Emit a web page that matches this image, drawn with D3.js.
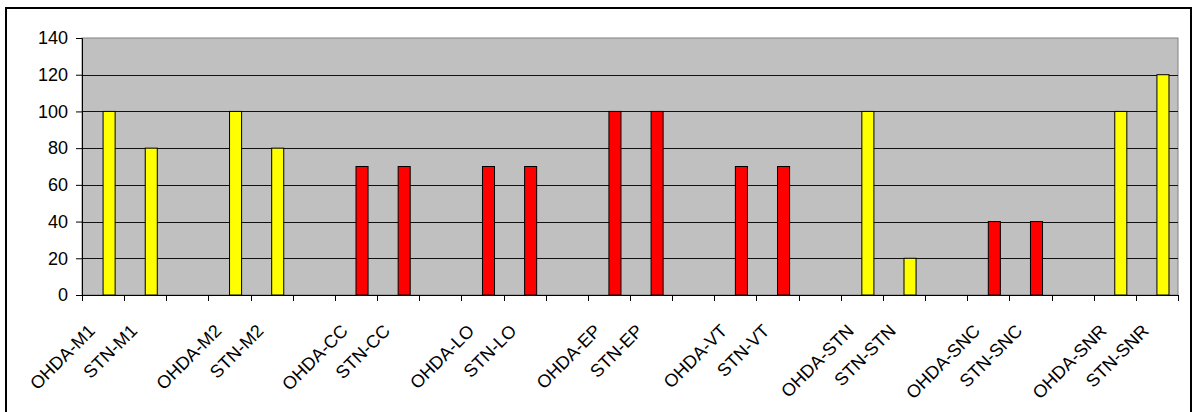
<!DOCTYPE html>
<html><head><meta charset="utf-8">
<script src="https://cdn.jsdelivr.net/npm/d3@7"></script>
<style>html,body{margin:0;padding:0;background:#fff}svg{display:block}</style>
</head><body>
<svg id="c" width="1200" height="412"></svg>
<script>
const categories = ["OHDA-M1","STN-M1","","OHDA-M2","STN-M2","","OHDA-CC","STN-CC","","OHDA-LO","STN-LO","","OHDA-EP","STN-EP","","OHDA-VT","STN-VT","","OHDA-STN","STN-STN","","OHDA-SNC","STN-SNC","","OHDA-SNR","STN-SNR"];
const values = [100,80,null,100,80,null,70,70,null,70,70,null,100,100,null,70,70,null,100,20,null,40,40,null,100,120];
const barColors = ["#FFFF00","#FFFF00",null,"#FFFF00","#FFFF00",null,"#FF0000","#FF0000",null,"#FF0000","#FF0000",null,"#FF0000","#FF0000",null,"#FF0000","#FF0000",null,"#FFFF00","#FFFF00",null,"#FF0000","#FF0000",null,"#FFFF00","#FFFF00"];
const seriesSlots = ["empty","value"];
const yTicks = [0,20,40,60,80,100,120,140];

const svg = d3.select("#c");
const L = 82, T = 38, R = 1178, B = 295;
const font = "'Liberation Sans', Arial, sans-serif";

svg.append("rect").attr("x",6).attr("y",8).attr("width",1185).attr("height",430)
  .attr("fill","#fff").attr("stroke","#000").attr("stroke-width",2);

const x0 = d3.scaleBand().domain(d3.range(categories.length)).range([L,R]).padding(0);
const x1 = d3.scaleBand().domain(seriesSlots).range([0,x0.bandwidth()]).paddingInner(0).paddingOuter(0.75);
const y = d3.scaleLinear().domain([0,140]).range([B,T]);

svg.append("rect").attr("x",L).attr("y",T).attr("width",R-L).attr("height",B-T)
  .attr("fill","#C0C0C0").attr("stroke","#808080").attr("stroke-width",1);

svg.append("g").selectAll("line").data(yTicks.filter(t=>t>0 && t<140)).join("line")
  .attr("x1",L).attr("x2",R).attr("y1",d=>Math.round(y(d))+0.5).attr("y2",d=>Math.round(y(d))+0.5)
  .attr("stroke","#111").attr("stroke-width",1.2);

const idx = d3.range(categories.length).filter(i=>values[i]!=null);
svg.append("g").selectAll("rect").data(idx).join("rect")
  .attr("x",i=>x0(i)+x1("value"))
  .attr("y",i=>y(values[i]))
  .attr("width",x1.bandwidth())
  .attr("height",i=>y(0)-y(values[i]))
  .attr("fill",i=>barColors[i]).attr("stroke","#000").attr("stroke-width",1);

// y axis
const yAxis = d3.axisLeft(y).tickValues(yTicks).tickSize(6).tickPadding(8);
const gy = svg.append("g").attr("transform",`translate(${L},0)`).call(yAxis);
gy.select(".domain").attr("stroke","#000");
gy.selectAll("line").attr("stroke","#000");
gy.selectAll("text").attr("font-family",font).attr("font-size",18).attr("fill","#000");

// x axis ticks at category boundaries
const bounds = d3.range(categories.length+1).map(i=> i<categories.length ? x0(i) : R);
const gx = svg.append("g");
gx.append("line").attr("x1",L).attr("x2",R).attr("y1",B+0.5).attr("y2",B+0.5).attr("stroke","#000");
gx.selectAll("line.t").data(bounds).join("line").attr("class","t")
  .attr("x1",d=>Math.round(d)+0.5).attr("x2",d=>Math.round(d)+0.5).attr("y1",B).attr("y2",B+6).attr("stroke","#000");
gx.selectAll("text").data(d3.range(categories.length)).join("text")
  .attr("transform",i=>`translate(${x0(i)+x0.bandwidth()/2-7},${B+37}) rotate(-45)`)
  .attr("text-anchor","end")
  .attr("font-family",font).attr("font-size",18).attr("fill","#000")
  .text(i=>categories[i]);
</script>
</body></html>
